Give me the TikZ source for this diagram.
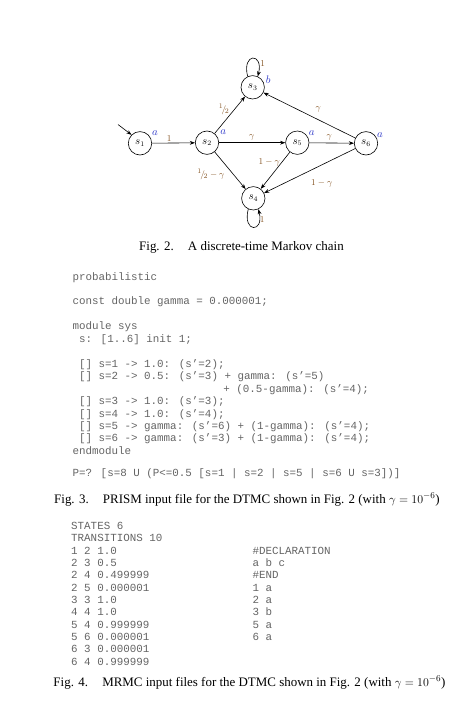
\documentclass[tikz,border=0pt]{standalone}
\usepackage{fontspec}
\setmainfont{Liberation Serif}
\newfontfamily\monof{Liberation Mono}
\usetikzlibrary{arrows.meta}
\definecolor{codegray}{RGB}{100,100,100}
\definecolor{propblue}{RGB}{45,55,200}
\definecolor{probbrown}{RGB}{130,80,30}
\tikzset{
  state/.style={circle,draw,line width=0.6bp,minimum size=23.4bp,inner sep=0pt,font=\fontsize{10.5}{12}\selectfont},
  trans/.style={line width=0.6bp,-{Stealth[length=5.2bp,width=3.8bp]}},
  prop/.style={text=propblue,inner sep=0pt,font=\fontsize{10.5}{12}\selectfont},
  prob/.style={text=probbrown,inner sep=0pt,font=\fontsize{9.5}{11}\selectfont},
  code/.style={anchor=base west,inner sep=0pt,text=codegray,font=\monof\fontsize{10.9}{12}\selectfont},
  capt/.style={anchor=base west,inner sep=0pt,font=\fontsize{13}{15}\selectfont}
}
\begin{document}
\begin{tikzpicture}[x=1bp,y=-1bp]
\path[use as bounding box] (0,0) rectangle (457,704);
% states
\node[state] (s1) at (140,143.3) {$s_1$};
\node[state] (s2) at (207,142.7) {$s_2$};
\node[state] (s3) at (252.7,87.3) {$s_3$};
\node[state] (s5) at (297.3,142.7) {$s_5$};
\node[state] (s6) at (366,143.3) {$s_6$};
\node[state] (s4) at (253.3,198.3) {$s_4$};
% propositions
\node[prop] (l1) at (155,133.3) {$a$};
\node[prop] (l2) at (223.3,131.7) {$a$};
\node[prop] (l5) at (311.7,132.7) {$a$};
\node[prop] (l6) at (380,135) {$a$};
\node[prop] (l3) at (268.3,80) {$b$};
% initial arrow
\coordinate (init) at (118,124.5);
\draw[trans] (init) -- (s1.135);
% transitions
\draw[trans] (s1) -- (s2);
\draw[trans] (s2) -- (s3);
\draw[trans] (s2) -- (s5);
\draw[trans] (s2) -- (s4);
\draw[trans] (s5) -- (s6);
\draw[trans] (s5) -- (s4);
\draw[trans] (s6) -- (s3);
\draw[trans] (s6) -- (s4);
\draw[trans] (s3.115) .. controls +(-6,-24) and +(6,-24) .. (s3.65);
\draw[trans] (s4.245) .. controls +(-6,24) and +(6,24) .. (s4.295);
% probabilities
\node[prob] (p12) at (169.3,138.3) {$1$};
\node[prob] (p23) at (224,109.3) {${}^1\!/\!{}_2$};
\node[prob] (p25) at (251.7,137.3) {$\gamma$};
\node[prob] (p24) at (211,174) {${}^1\!/\!{}_2-\gamma$};
\node[prob] (p54) at (269.3,162.7) {$1-\gamma$};
\node[prob] (p56) at (329.3,137.3) {$\gamma$};
\node[prob] (p63) at (318.3,109.3) {$\gamma$};
\node[prob] (p64) at (321.7,183.3) {$1-\gamma$};
\node[prob] (p33) at (262.7,63.3) {$1$};
\node[prob] (p44) at (262.3,220) {$1$};
% caption fig 2
\node[capt] (cap2) at (139,250) {Fig. 2.\hspace{1.1em}A discrete-time Markov chain};
% PRISM code
\node[code] (c0) at (72.3,280) {probabilistic};
\node[code] (c2) at (72.3,304.9) {const double gamma = 0.000001;};
\node[code] (c4) at (72.3,329.8) {module sys};
\node[code] (c5) at (72.3,342.3) {\ s: [1..6] init 1;};
\node[code] (c7) at (72.3,367.2) {\ [] s=1 -> 1.0: (s’=2);};
\node[code] (c8) at (72.3,379.6) {\ [] s=2 -> 0.5: (s’=3) + gamma: (s’=5)};
\node[code] (c9) at (223.2,392.1) {+ (0.5-gamma): (s’=4);};
\node[code] (c10) at (72.3,404.5) {\ [] s=3 -> 1.0: (s’=3);};
\node[code] (c11) at (72.3,417.0) {\ [] s=4 -> 1.0: (s’=4);};
\node[code] (c12) at (72.3,429.4) {\ [] s=5 -> gamma: (s’=6) + (1-gamma): (s’=4);};
\node[code] (c13) at (72.3,441.9) {\ [] s=6 -> gamma: (s’=3) + (1-gamma): (s’=4);};
\node[code] (c14) at (72.3,454.3) {endmodule};
\node[code] (c16) at (72.3,476.2) {P=? [s=8 U (P<=0.5 [s=1 | s=2 | s=5 | s=6 U s=3])]};
% caption fig 3
\node[capt] (cap3) at (54,503) {Fig. 3.\hspace{1.1em}PRISM input file for the DTMC shown in Fig. 2 (with $\gamma=10^{-6}$)};
% MRMC files
\node[code,anchor=north west] (mrmc) at (71,520.84) {%
\fontsize{10.9}{12.37}\selectfont
\begin{tabular}{@{}p{181.3bp}@{}l@{}}
STATES 6 & \\
TRANSITIONS 10 & \\
1 2 1.0 & \#DECLARATION \\
2 3 0.5 & a b c \\
2 4 0.499999 & \#END \\
2 5 0.000001 & 1 a \\
3 3 1.0 & 2 a \\
4 4 1.0 & 3 b \\
5 4 0.999999 & 5 a \\
5 6 0.000001 & 6 a \\
6 3 0.000001 & \\
6 4 0.999999 &
\end{tabular}};
% caption fig 4
\node[capt] (cap4) at (53.3,686) {Fig. 4.\hspace{1.1em}MRMC input files for the DTMC shown in Fig. 2 (with $\gamma=10^{-6}$)};
\end{tikzpicture}
\end{document}
